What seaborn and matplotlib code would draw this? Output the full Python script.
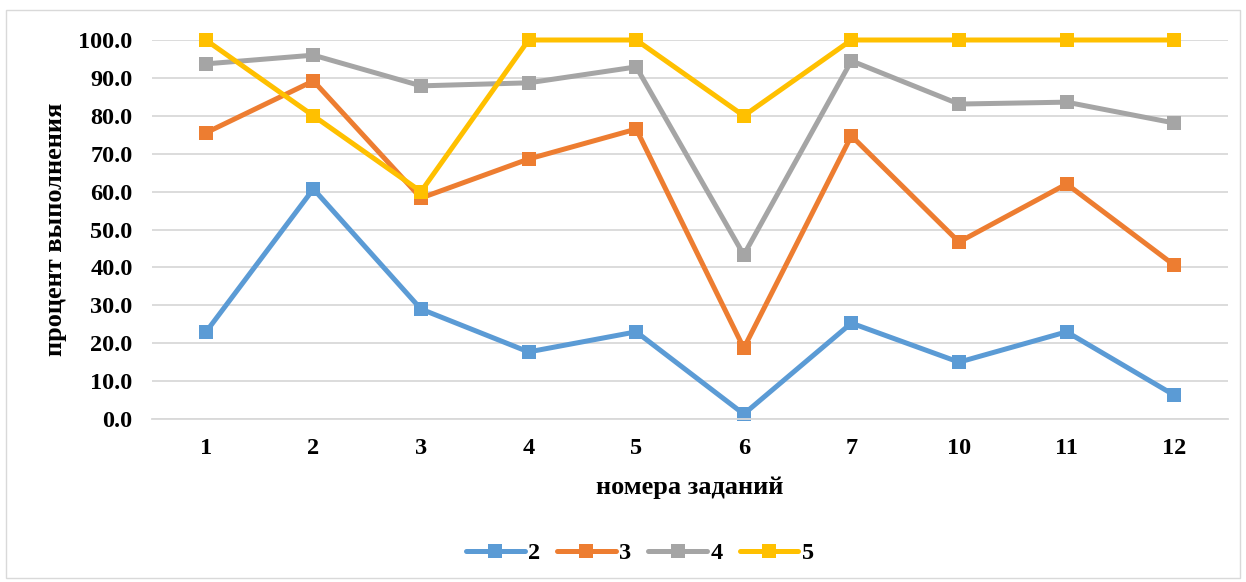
import matplotlib
matplotlib.use("Agg")
import matplotlib.pyplot as plt
import seaborn as sns
import pandas as pd
from matplotlib.patches import Rectangle

tasks = ["1", "2", "3", "4", "5", "6", "7", "10", "11", "12"]
s2 = [22.9, 60.7, 29.0, 17.7, 23.0, 1.3, 25.3, 15.0, 23.0, 6.3]
s3 = [75.5, 89.2, 58.3, 68.6, 76.5, 18.7, 74.7, 46.7, 62.0, 40.6]
s4 = [93.7, 96.0, 87.9, 88.7, 92.9, 43.3, 94.5, 83.1, 83.6, 78.1]
s5 = [100.0, 80.0, 60.0, 100.0, 100.0, 80.0, 100.0, 100.0, 100.0, 100.0]
series_names = ["2", "3", "4", "5"]
colors = ["#5B9BD5", "#ED7D31", "#A5A5A5", "#FFC000"]

rows = []
for name, vals in zip(series_names, [s2, s3, s4, s5]):
    for t, v in zip(tasks, vals):
        rows.append({"task": t, "value": v, "series": name})
df = pd.DataFrame(rows)

sns.set_theme(style="white")
plt.rcParams["font.family"] = ["Liberation Serif", "DejaVu Serif"]
plt.rcParams["font.weight"] = "bold"
plt.rcParams["text.color"] = "black"
plt.rcParams["xtick.color"] = "black"
plt.rcParams["ytick.color"] = "black"
plt.rcParams["axes.labelcolor"] = "black"

fig = plt.figure(figsize=(12.46, 5.82), dpi=100)
ax = fig.add_axes([152 / 1246, 1 - 419 / 582, (1228 - 152) / 1246, (419 - 40) / 582])

sns.lineplot(data=df, x="task", y="value", hue="series", palette=colors,
             hue_order=series_names, marker="s", markersize=10.5, markeredgewidth=0,
             linewidth=3.6, sort=False, ax=ax, clip_on=False)

ax.set_xlim(-0.5, len(tasks) - 0.5)
ax.set_ylim(0, 100)
ax.set_yticks(range(0, 101, 10))
ax.set_yticklabels([f"{v:.1f}" for v in range(0, 101, 10)])
ax.yaxis.grid(True, color="#D9D9D9", linewidth=1.3)
ax.set_axisbelow(True)
for s in ["top", "right", "left"]:
    ax.spines[s].set_visible(False)
ax.spines["bottom"].set_color("#D9D9D9")
ax.spines["bottom"].set_linewidth(1.3)
ax.tick_params(axis="both", length=0, labelsize=17.5)
ax.tick_params(axis="y", pad=14)
ax.tick_params(axis="x", pad=14)
for lbl in ax.get_xticklabels() + ax.get_yticklabels():
    lbl.set_fontweight("bold")

ax.set_xlabel("номера заданий", fontsize=19, fontweight="bold", labelpad=12)
ax.set_ylabel("процент выполнения", fontsize=19, fontweight="bold", labelpad=8)

handles, labels = ax.get_legend_handles_labels()
ax.legend(handles, labels, loc="center", bbox_to_anchor=(640 / 1246, 1 - 553 / 582),
          bbox_transform=fig.transFigure, ncol=4, frameon=False,
          prop={"size": 17.5, "weight": "bold"}, handlelength=2.4,
          handletextpad=0.15, columnspacing=0.7)

fig.patches.append(Rectangle((6 / 1246, 4 / 582), 1234 / 1246, 568 / 582,
                             transform=fig.transFigure, fill=False,
                             edgecolor="#D9D9D9", linewidth=1.0))

fig.savefig("out.png", dpi=100)
